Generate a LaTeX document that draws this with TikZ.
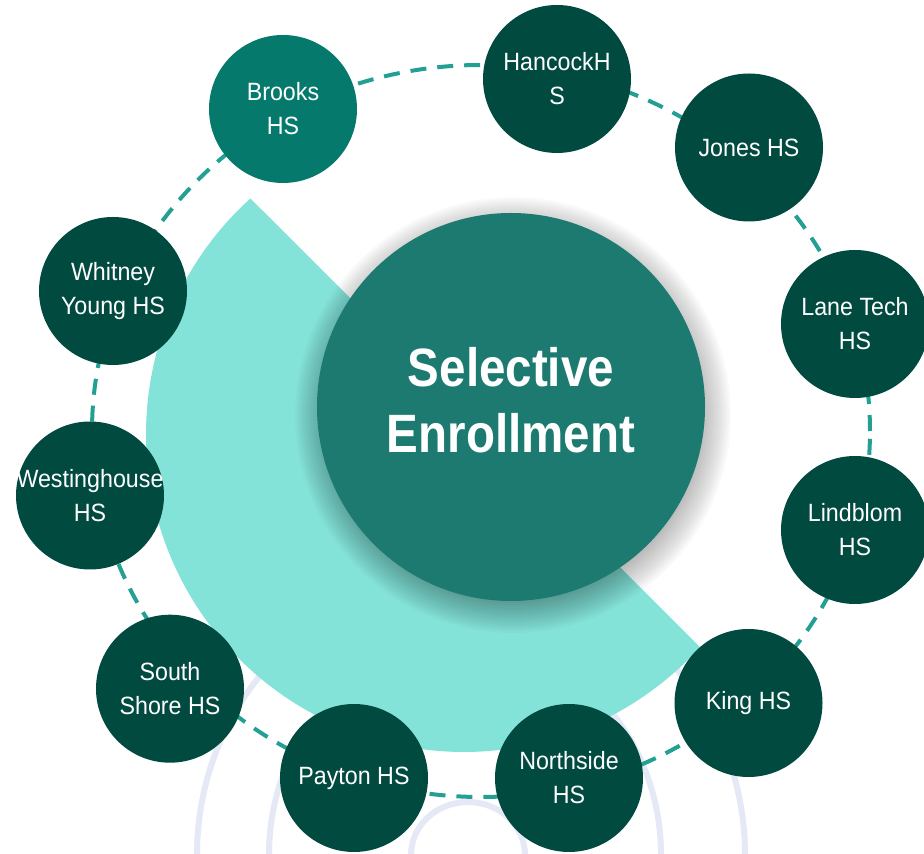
\documentclass[tikz,border=0pt]{standalone}
\usepackage{fontspec}
\setmainfont{Liberation Sans}[FakeStretch=0.93]
\newfontfamily\titlefont{Liberation Sans}[FakeStretch=0.88]
\definecolor{darknode}{HTML}{014A40}
\definecolor{brooksc}{HTML}{057A6C}
\definecolor{centerc}{HTML}{1C7A70}
\definecolor{sectorc}{HTML}{84E3D9}
\definecolor{dashc}{HTML}{23A093}
\definecolor{faintc}{HTML}{E5E8F5}
\tikzset{
  faintarc/.style={draw=faintc, line width=6pt},
  ring/.style={draw=dashc, line width=4pt, dash pattern=on 16pt off 11pt},
  school/.style={circle, fill=darknode, minimum size=148pt, inner sep=0pt},
  schooltext/.style={text=white, align=center, inner sep=0pt, font=\fontsize{25}{34}\selectfont},
  hubnode/.style={circle, fill=centerc, minimum size=388pt, inner sep=0pt},
  shadowlayer/.style={fill=black, opacity=0.018},
  hubtext/.style={text=white, align=center, inner sep=0pt, font=\titlefont\bfseries\fontsize{54}{66}\selectfont}
}
\begin{document}
\begin{tikzpicture}[x=1pt,y=1pt]
\useasboundingbox (0,0) rectangle (924,854);
% faint background arches
\draw[faintarc] (197,-1) arc[start angle=180, end angle=0, x radius=274, y radius=281];
\draw[faintarc] (269,-1) arc[start angle=180, end angle=0, x radius=196, y radius=215];
\draw[faintarc] (411,-1) arc[start angle=180, end angle=0, x radius=57, y radius=53];
% light teal sector
\fill[sectorc] (464,420) ++(132.2:318) arc[start angle=132.2, end angle=317.93, radius=318] -- cycle;
% dashed ring
\draw[ring] (481,423) ellipse [x radius=389, y radius=366];
% soft shadow of the hub
\foreach \r in {188,190,...,218}
  \fill[shadowlayer] (513,439) circle[radius=\r];
% hub
\node[hubnode] (hub) at (511,447) {};
\node[hubtext] (hubT) at (511,453.5) {Selective\\Enrollment};
% schools
\node[school, fill=brooksc] (brooks) at (283,745) {};
\node[schooltext] (brooksT) at (brooks) {Brooks\\HS};
\node[school] (hancock) at (557,775) {};
\node[schooltext] (hancockT) at (hancock) {HancockH\\S};
\node[school] (jones) at (749,706.5) {};
\node[schooltext] (jonesT) at (jones) {Jones HS};
\node[school] (lanetech) at (855,530) {};
\node[schooltext] (lanetechT) at (lanetech) {Lane Tech\\HS};
\node[school] (lindblom) at (855,324) {};
\node[schooltext] (lindblomT) at (lindblom) {Lindblom\\HS};
\node[school] (king) at (748.5,151) {};
\node[schooltext] (kingT) at (king) {King HS};
\node[school] (northside) at (569,76) {};
\node[schooltext] (northsideT) at (northside) {Northside\\HS};
\node[school] (payton) at (354,76) {};
\node[schooltext] (paytonT) at (payton) {Payton HS};
\node[school] (southshore) at (170,165.3) {};
\node[schooltext] (southshoreT) at (southshore) {South\\Shore HS};
\node[school] (westinghouse) at (90,358.5) {};
\node[schooltext] (westinghouseT) at (westinghouse) {Westinghouse\\HS};
\node[school] (whitney) at (113,563) {};
\node[schooltext] (whitneyT) at (whitney) {Whitney\\Young HS};
\end{tikzpicture}
\end{document}
